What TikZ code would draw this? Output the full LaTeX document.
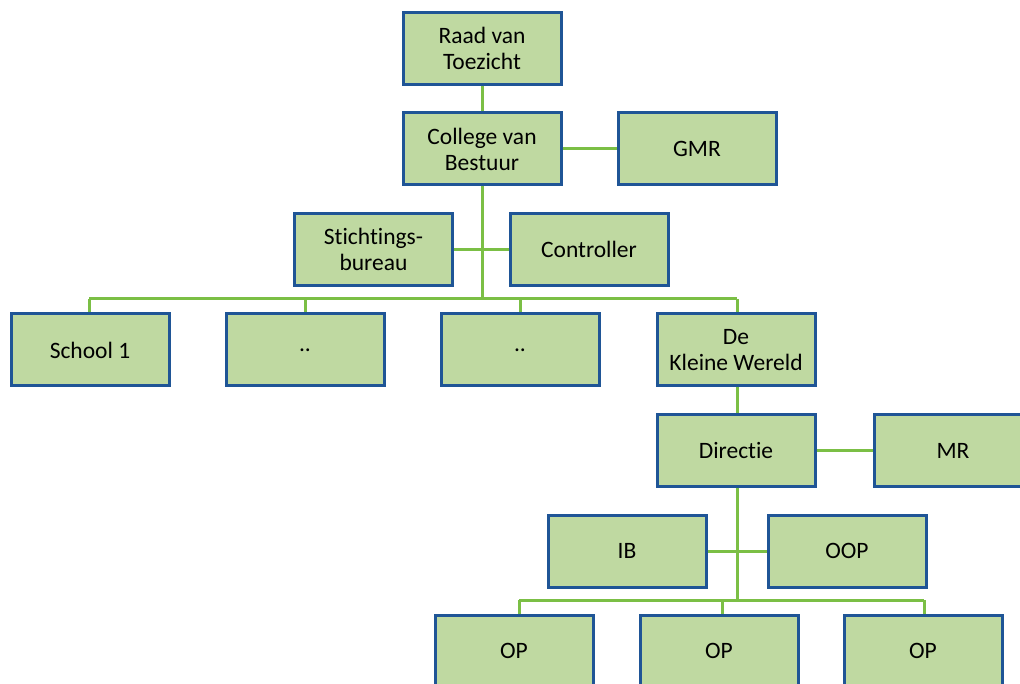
\documentclass[tikz,border=0pt]{standalone}
\usepackage{fontspec}
\setmainfont{Carlito}[Ligatures={NoCommon,NoRare}]
\definecolor{boxfill}{HTML}{BFD9A1}
\definecolor{boxdraw}{HTML}{1F5596}
\definecolor{linkc}{HTML}{7BBF45}
\begin{document}
\begin{tikzpicture}[x=1pt,y=-1pt,
  orgbox/.style={draw=boxdraw,fill=boxfill,line width=3pt,minimum width=158pt,minimum height=72pt,
    inner sep=0pt,align=center,font=\fontsize{23.5}{26}\selectfont,text=black},
  link/.style={draw=linkc,line width=3pt}]
\useasboundingbox (0,0) rectangle (1020,684);
% connector coordinates
\coordinate (bus1) at (482,299);
\coordinate (bus1L) at (89,299);
\coordinate (bus1R) at (737,299);
\coordinate (bus2) at (737,600);
\coordinate (bus2L) at (519,600);
\coordinate (bus2M) at (722,600);
\coordinate (bus2R) at (924,600);
% nodes
\node[orgbox] (rvt) at (482,48.5) {Raad van\\Toezicht};
\node[orgbox] (cvb) at (482,149) {College van\\Bestuur};
\node[orgbox] (gmr) at (697,149) {GMR};
\node[orgbox] (sb) at (373.5,249.5) {Stichtings-\\bureau};
\node[orgbox] (ctrl) at (589,249.5) {Controller};
\node[orgbox] (s1) at (90,350) {School 1};
\node[orgbox] (s2) at (305,350) {..};
\node[orgbox] (s3) at (520,350) {..};
\node[orgbox] (dkw) at (736,350) {De\\Kleine Wereld};
\node[orgbox] (dir) at (736,450.5) {Directie};
\node[orgbox] (mr) at (953,450.5) {MR};
\node[orgbox] (ib) at (627,551) {IB};
\node[orgbox] (oop) at (847,551) {OOP};
\node[orgbox] (op1) at (514,651) {OP};
\node[orgbox] (op2) at (719,651) {OP};
\node[orgbox] (op3) at (923,651) {OP};
% links
\draw[link] (rvt.south) -- (cvb.north);
\draw[link] (cvb.east) -- (gmr.west);
\draw[link] (cvb.south) -- (bus1);
\draw[link] (sb.east) -- (ctrl.west);
\draw[link] (bus1L) -- (bus1R);
\draw[link] (bus1L) -- (bus1L |- s1.north);
\draw[link] (s2.north |- bus1) -- (s2.north);
\draw[link] (s3.north |- bus1) -- (s3.north);
\draw[link] (bus1R) -- (bus1R |- dkw.north);
\draw[link] (dkw.south -| bus1R) -- (dir.north -| bus1R);
\draw[link] (dir.east) -- (mr.west);
\draw[link] (dir.south -| bus2) -- (bus2);
\draw[link] (ib.east) -- (oop.west);
\draw[link] (bus2L) -- (bus2R);
\draw[link] (bus2L) -- (bus2L |- op1.north);
\draw[link] (bus2M) -- (bus2M |- op2.north);
\draw[link] (bus2R) -- (bus2R |- op3.north);
\end{tikzpicture}
\end{document}
